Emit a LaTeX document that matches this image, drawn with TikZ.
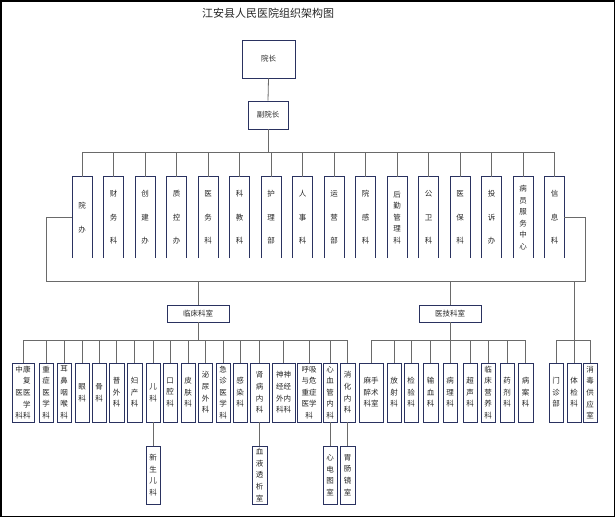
\documentclass[tikz,border=0pt]{standalone}
\usepackage{fontspec}
\setmainfont{Noto Sans CJK SC}
\definecolor{boxblue}{HTML}{2A3260}
\definecolor{linegray}{HTML}{6A6A6A}

\begin{document}
\begin{tikzpicture}
[x=1pt,y=-1pt,
every node/.style={inner sep=0pt,font=\fontsize{7.5}{11.6}\selectfont,text=black!85},
deptbox/.style={draw=boxblue,line width=.8pt,fill=white,align=center},
topbox/.style={minimum width=19.5pt,minimum height=81pt,align=center},
sparse/.style={font=\fontsize{7.5}{23.5}\selectfont},
cbox/.style={deptbox,minimum width=14pt,minimum height=59pt},
link/.style={draw=linegray,line width=.8pt}]
\useasboundingbox (0,0) rectangle (615,517);
\draw[line width=1.5pt] (0.75,0.75) rectangle (614.25,516.25);
\node[font=\fontsize{11}{13}\selectfont] (title) at (268,13) {江安县人民医院组织架构图};
\node[deptbox,minimum width=53pt,minimum height=38pt] (yz) at (268.5,59) {院长};
\node[deptbox,minimum width=40pt,minimum height=28pt] (fyz) at (268,115) {副院长};
% functional departments
\node[topbox,sparse] (t1) at (82,217.5) {院\\办};
\node[topbox,sparse] (t2) at (113.5,217.5) {财\\务\\科};
\node[topbox,sparse] (t3) at (145,217.5) {创\\建\\办};
\node[topbox,sparse] (t4) at (176.5,217.5) {质\\控\\办};
\node[topbox,sparse] (t5) at (208,217.5) {医\\务\\科};
\node[topbox,sparse] (t6) at (239.5,217.5) {科\\教\\科};
\node[topbox,sparse] (t7) at (271,217.5) {护\\理\\部};
\node[topbox,sparse] (t8) at (302.5,217.5) {人\\事\\科};
\node[topbox,sparse] (t9) at (334,217.5) {运\\营\\部};
\node[topbox,sparse] (t10) at (365.5,217.5) {院\\感\\科};
\node[topbox] (t11) at (397,217.5) {后\\勤\\管\\理\\科};
\node[topbox,sparse] (t12) at (428.5,217.5) {公\\卫\\科};
\node[topbox,sparse] (t13) at (460,217.5) {医\\保\\科};
\node[topbox,sparse] (t14) at (491.5,217.5) {投\\诉\\办};
\node[topbox] (t15) at (523,217.5) {病\\员\\服\\务\\中\\心};
\node[topbox,sparse] (t16) at (554.5,217.5) {信\\息\\科};
\foreach \i in {1,...,16}
\draw[boxblue,line width=.8pt] (t\i.south west) -- (t\i.north west) -- (t\i.north east) -- (t\i.south east);
% groups
\node[deptbox,minimum width=62pt,minimum height=17pt] (lck) at (198,313.5) {临床科室};
\node[deptbox,minimum width=62pt,minimum height=17pt] (yjk) at (450,313.5) {医技科室};
% clinical departments
\node[cbox,minimum width=22pt] (c1) at (23,392.5) {中康\\\hphantom{中}复\\医医\\\hphantom{中}学\\科科};
\node[cbox] (c2) at (46,392.5) {重\\症\\医\\学\\科};
\node[cbox] (c3) at (64,392.5) {耳\\鼻\\咽\\喉\\科};
\node[cbox] (c4) at (82,392.5) {眼\\科};
\node[cbox] (c5) at (99,392.5) {骨\\科};
\node[cbox,minimum width=15pt] (c6) at (116.5,392.5) {普\\外\\科};
\node[cbox,minimum width=15pt] (c7) at (134.5,392.5) {妇\\产\\科};
\node[cbox] (c8) at (153,392.5) {儿\\科};
\node[cbox] (c9) at (170,392.5) {口\\腔\\科};
\node[cbox] (c10) at (188,392.5) {皮\\肤\\科};
\node[cbox] (c11) at (205.5,392.5) {泌\\尿\\外\\科};
\node[cbox] (c12) at (223,392.5) {急\\诊\\医\\学\\科};
\node[cbox] (c13) at (240,392.5) {感\\染\\科};
\node[cbox,minimum width=19pt] (c14) at (259.5,392.5) {肾\\病\\内\\科};
\node[cbox,minimum width=23pt] (c15) at (283.5,392.5) {神神\\经经\\外内\\科科};
\node[cbox,minimum width=24pt] (c16) at (309,392.5) {呼吸\\与危\\重症\\医学\\科};
\node[cbox] (c17) at (330,392.5) {心\\血\\管\\内\\科};
\node[cbox,minimum width=15pt] (c18) at (347.5,392.5) {消\\化\\内\\科};
\node[cbox,minimum height=58pt] (k1) at (153,475) {新\\生\\儿\\科};
\node[cbox,minimum width=15pt,minimum height=58pt] (k2) at (259.5,475) {血\\液\\透\\析\\室};
\node[cbox,minimum height=58pt] (k3) at (330,475) {心\\电\\图\\室};
\node[cbox,minimum width=15pt,minimum height=58pt] (k4) at (347.5,475) {胃\\肠\\镜\\室};
% medical technology departments
\node[cbox,minimum width=24pt] (m1) at (371,392.5) {麻手\\醉术\\科室};
\node[cbox] (m2) at (394,392.5) {放\\射\\科};
\node[cbox] (m3) at (411,392.5) {检\\验\\科};
\node[cbox,minimum width=15pt] (m4) at (430.5,392.5) {输\\血\\科};
\node[cbox] (m5) at (450,392.5) {病\\理\\科};
\node[cbox] (m6) at (470,392.5) {超\\声\\科};
\node[cbox] (m7) at (488,392.5) {临\\床\\营\\养\\科};
\node[cbox] (m8) at (507,392.5) {药\\剂\\科};
\node[cbox,minimum width=15pt] (m9) at (525.5,392.5) {病\\案\\科};
\node[cbox] (r1) at (556,392.5) {门\\诊\\部};
\node[cbox] (r2) at (574,392.5) {体\\检\\科};
\node[cbox] (r3) at (590,392.5) {消\\毒\\供\\应\\室};
% connectors
\coordinate (topbar) at (268,152);
\coordinate (lb) at (46,281);
\coordinate (rb) at (585,281);
\coordinate (cbar) at (198,340);
\draw[link] (yz.south) -- (fyz.north);
\draw[link] (fyz.south) -- (topbar);
\foreach \i in {1,...,16}
\draw[link] (t\i.north) -- (t\i.north |- topbar);
\draw[link] (t1.north |- topbar) -- (t16.north |- topbar);
\draw[link] (t1.west) -| (lb) -- (rb) |- (t16.east);
\draw[link] (lck.north) -- (lck.north |- lb);
\draw[link] (yjk.north) -- (yjk.north |- lb);
\draw[link] (r2.north) -- (r2.north |- lb);
\draw[link] (lck.south) -- (cbar);
\draw[link] (yjk.south) -- (m5.north);
\foreach \i in {1,...,18}
\draw[link] (c\i.north) -- (c\i.north |- cbar);
\draw[link] (c1.north |- cbar) -- (c18.north |- cbar);
\foreach \i in {1,...,9}
\draw[link] (m\i.north) -- (m\i.north |- cbar);
\draw[link] (m1.north |- cbar) -- (m9.north |- cbar);
\foreach \i in {1,2,3}
\draw[link] (r\i.north) -- (r\i.north |- cbar);
\draw[link] (r1.north |- cbar) -- (r3.north |- cbar);
\foreach \from/\to in {c8/k1,c14/k2,c17/k3,c18/k4}
\draw[link] (\from) -- (\to);
\end{tikzpicture}
\end{document}
